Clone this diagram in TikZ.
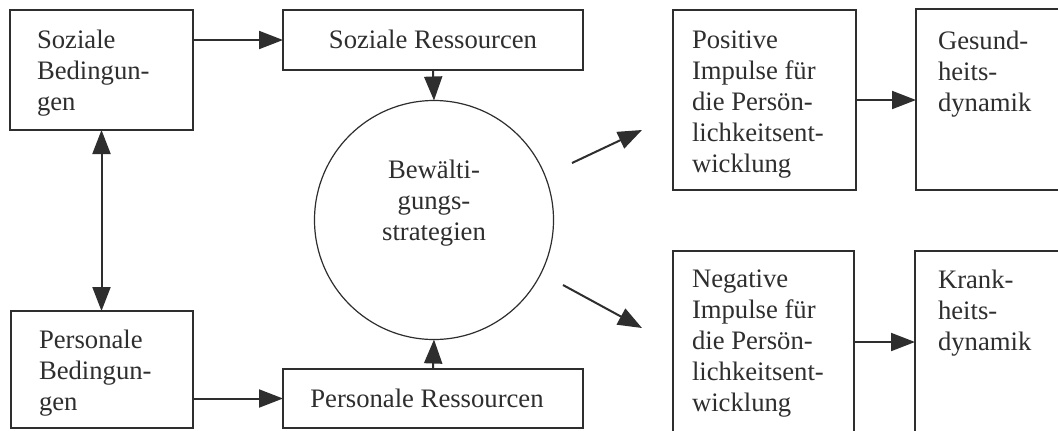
\documentclass[tikz,border=0pt]{standalone}
\usepackage{fontspec}
\setmainfont{Liberation Serif}
\usetikzlibrary{arrows.meta}
\definecolor{ink}{HTML}{2E2E2E}
\begin{document}
\begin{tikzpicture}[x=0.75pt,y=-0.75pt,
  box/.style={draw=ink,line width=1.5pt,inner sep=0pt,outer sep=0pt,rectangle,anchor=north west},
  txt/.style={inner sep=0pt,outer sep=0pt,text=ink,font=\fontsize{20}{23.2}\selectfont,align=left},
  arr/.style={draw=ink,line width=1.5pt,-{Triangle[length=18pt,width=13.5pt]}},
  darr/.style={draw=ink,line width=1.5pt,{Triangle[length=18pt,width=13.5pt]}-{Triangle[length=18pt,width=13.5pt]}}
]
\useasboundingbox[fill=white] (0,0) rectangle (1058,430);

% boxes
\node[box,minimum width=137.25pt,minimum height=90pt] (sb) at (10,10) {};
\node[box,minimum width=225pt,minimum height=45pt] (sr) at (283,10) {};
\node[box,minimum width=136.5pt,minimum height=87.75pt] (pb) at (11,311) {};
\node[box,minimum width=225pt,minimum height=44.25pt] (pr) at (283,369) {};
\node[box,minimum width=137.25pt,minimum height=135pt] (pos) at (673,10) {};
\node[box,minimum width=127.5pt,minimum height=135.75pt] (ges) at (916,9) {};
\node[box,minimum width=135.75pt,minimum height=136.5pt] (neg) at (673,251) {};
\node[box,minimum width=127.5pt,minimum height=136.5pt] (kra) at (915,251) {};
\node[circle,draw=ink,line width=0.9pt,inner sep=0pt,outer sep=0pt,minimum size=179.25pt] (circ) at (434,220) {};

% texts
\node[txt,anchor=north west] (tsb) at (37,30) {Soziale\\Bedingun-\\gen};
\node[txt,anchor=base] (tsr) at (433,48) {Soziale Ressourcen};
\node[txt,anchor=north west] (tpb) at (39,330) {Personale\\Bedingun-\\gen};
\node[txt,anchor=base] (tpr) at (427,407) {Personale Ressourcen};
\node[txt,align=center,anchor=north] (tci) at (434,160) {Bewälti-\\gungs-\\strategien};
\node[txt,anchor=north west] (tpos) at (692,31) {Positive\\Impulse für\\die Persön-\\lichkeitsent-\\wicklung};
\node[txt,anchor=north west] (tges) at (938,31) {Gesund-\\heits-\\dynamik};
\node[txt,anchor=north west] (tneg) at (692,270) {Negative\\Impulse für\\die Persön-\\lichkeitsent-\\wicklung};
\node[txt,anchor=north west] (tkra) at (938,270) {Krank-\\heits-\\dynamik};

% free ends of the diagonal arrows
\coordinate (ps) at (572,163);
\coordinate (pe) at (642,130);
\coordinate (ns) at (563,285);
\coordinate (ne) at (642,328);

% connectors
\draw[arr] (sb.east |- sr.west) -- (sr.west);
\draw[arr] (pb.east |- pr.west) -- (pr.west);
\draw[arr] (sr.south) -- (circ.north);
\draw[arr] (pr.north) -- (circ.south);
\draw[darr] (sb.south) -- (sb.south |- pb.north);
\draw[arr] (pos.east) -- (ges.west |- pos.east);
\draw[arr] (neg.east) -- (kra.west |- neg.east);
\draw[arr] (ps) -- (pe);
\draw[arr] (ns) -- (ne);
\end{tikzpicture}
\end{document}
